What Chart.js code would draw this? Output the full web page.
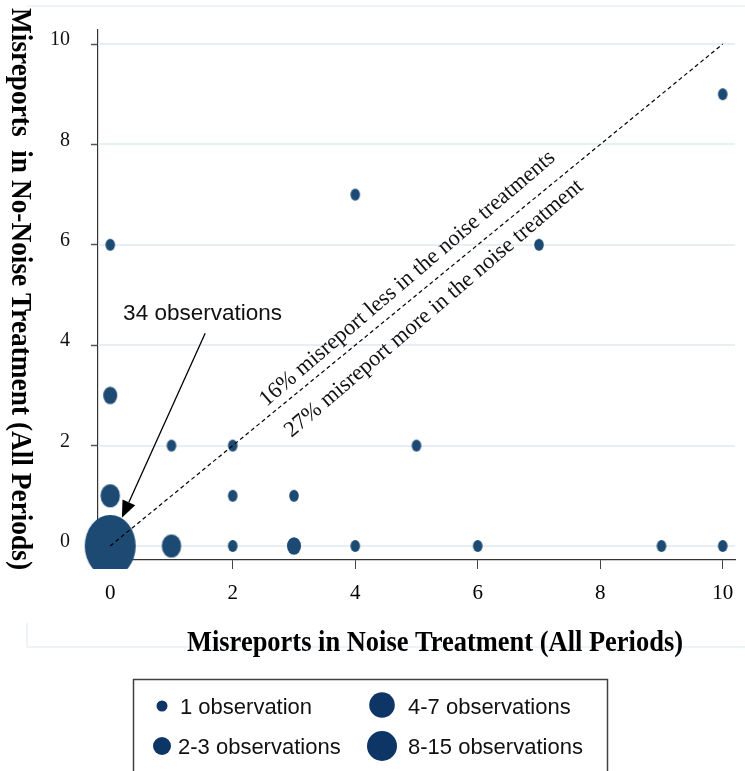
<!DOCTYPE html>
<html>
<head>
<meta charset="utf-8">
<script src="https://cdn.jsdelivr.net/npm/chart.js@4/dist/chart.umd.min.js"></script>
<style>
  html, body { margin: 0; padding: 0; background: #fff; }
  #wrap { width: 745px; height: 771px; position: relative; overflow: hidden; }
</style>
</head>
<body>
<div id="wrap"><canvas id="chart" width="745" height="771"></canvas></div>
<script>
// observations: x = misreports in noise treatment, y = misreports in no-noise treatment
const xValues = [0, 0, 0, 0, 1, 1, 2, 2, 2, 3, 3, 4, 4, 5, 6, 7, 9, 10, 10];
const yValues = [0, 1, 3, 6, 0, 2, 0, 1, 2, 0, 1, 0, 7, 2, 0, 6, 0, 0, 9];
const counts  = [34, 5, 2, 1, 5, 1, 1, 1, 1, 2, 1, 1, 1, 1, 1, 1, 1, 1, 1];

// 45 degree reference line
const diagonalX = [0, 10];
const diagonalY = [0, 10];

const xTicks = [0, 2, 4, 6, 8, 10];
const yTicks = [0, 2, 4, 6, 8, 10];

const xTitle = 'Misreports in Noise Treatment (All Periods)';
const yTitle = 'Misreports  in No-Noise Treatment (All Periods)';
const arrowLabel = '34 observations';
const lessLabel = '16% misreport less in the noise treatments';
const moreLabel = '27% misreport more in the noise treatment';

const legendLabels = ['1 observation', '2-3 observations', '4-7 observations', '8-15 observations'];

const DOT = '#1d4a73';
const LEGEND_DOT = '#0d3566';
const LIGHT = '#e8eff3';

// size class of a bubble (horizontal/vertical radius in px)
function dotSize(c) {
    if (c <= 1) return [4.8, 6];
    if (c <= 3) return [7, 8.8];
    if (c <= 7) return [9.7, 11.5];
    if (c <= 15) return [13, 15.5];
    return [25.5, 31];
}

const ellipseCache = {};
function ellipseStyle(c) {
    const [rx, ry] = dotSize(c);
    const key = rx + '_' + ry;
    if (ellipseCache[key]) return ellipseCache[key];
    const cv = document.createElement('canvas');
    cv.width = Math.ceil(rx * 2) + 2;
    cv.height = Math.ceil(ry * 2) + 2;
    const g = cv.getContext('2d');
    g.fillStyle = DOT;
    g.beginPath();
    g.ellipse(cv.width / 2, cv.height / 2, rx, ry, 0, 0, Math.PI * 2);
    g.fill();
    ellipseCache[key] = cv;
    return cv;
}

const points = xValues.map((x, i) => ({ x: x, y: yValues[i] }));
const diagonal = diagonalX.map((x, i) => ({ x: x, y: diagonalY[i] }));

// light horizontal grid lines and the faint outer frame, under the dots
const backgroundPlugin = {
    id: 'background',
    beforeDatasetsDraw(chart) {
        const ctx = chart.ctx;
        const area = chart.chartArea;
        const y = chart.scales.y;
        ctx.save();
        ctx.strokeStyle = LIGHT;
        ctx.lineWidth = 2;
        yTicks.forEach(v => {
            const py = Math.round(y.getPixelForValue(v));
            ctx.beginPath();
            ctx.moveTo(area.left, py);
            ctx.lineTo(area.right, py);
            ctx.stroke();
        });
        // outer frame
        ctx.lineWidth = 1.5;
        ctx.beginPath();
        ctx.moveTo(27, 6);
        ctx.lineTo(745, 6);
        ctx.moveTo(27, 623);
        ctx.lineTo(27, 647);
        ctx.lineTo(745, 647);
        ctx.stroke();
        ctx.restore();
    }
};

function drawLegend(ctx) {
    ctx.save();
    ctx.strokeStyle = '#404040';
    ctx.lineWidth = 1.5;
    ctx.strokeRect(133.5, 679.5, 474, 120);
    const cols = [162, 162, 382, 382];
    const rows = [706, 746, 705, 746];
    const radii = [5.5, 9, 12.8, 15];
    const textX = [180, 178, 408, 408];
    const base = [714, 754, 714, 754];
    ctx.font = '22px "Liberation Sans", Arial, sans-serif';
    ctx.textAlign = 'left';
    ctx.textBaseline = 'alphabetic';
    legendLabels.forEach((label, i) => {
        ctx.fillStyle = LEGEND_DOT;
        ctx.beginPath();
        ctx.arc(cols[i], rows[i], radii[i], 0, Math.PI * 2);
        ctx.fill();
        ctx.fillStyle = '#111';
        ctx.fillText(label, textX[i], base[i]);
    });
    ctx.restore();
}

// titles, arrow, rotated notes, legend
const annotationPlugin = {
    id: 'annotations',
    afterDraw(chart) {
        const ctx = chart.ctx;
        const xs = chart.scales.x;
        const ys = chart.scales.y;
        const px = v => xs.getPixelForValue(v);
        const py = v => ys.getPixelForValue(v);

        ctx.save();
        ctx.fillStyle = '#000';

        // x title (condensed bold serif)
        ctx.font = 'bold 29px "Liberation Serif", "Times New Roman", serif';
        let w = ctx.measureText(xTitle).width;
        ctx.save();
        ctx.translate(435, 651);
        ctx.scale(496 / w, 1);
        ctx.textAlign = 'center';
        ctx.fillText(xTitle, 0, 0);
        ctx.restore();

        // y title, reading top to bottom
        w = ctx.measureText(yTitle).width;
        ctx.save();
        ctx.translate(12, 8);
        ctx.rotate(Math.PI / 2);
        ctx.scale(562 / w, 1);
        ctx.textAlign = 'left';
        ctx.fillText(yTitle, 0, 0);
        ctx.restore();

        // arrow to the big bubble
        ctx.font = '22.5px "Liberation Sans", Arial, sans-serif';
        ctx.fillStyle = '#111';
        ctx.textAlign = 'left';
        ctx.fillText(arrowLabel, px(0.21), py(4.5));

        const ax0 = px(1.55), ay0 = py(4.24);
        const ax1 = px(0.19), ay1 = py(0.56);
        const ang = Math.atan2(ay1 - ay0, ax1 - ax0);
        const headLen = 17, headW = 7;
        const bx = ax1 - headLen * Math.cos(ang);
        const by = ay1 - headLen * Math.sin(ang);
        ctx.strokeStyle = '#000';
        ctx.lineWidth = 1.3;
        ctx.beginPath();
        ctx.moveTo(ax0, ay0);
        ctx.lineTo(bx, by);
        ctx.stroke();
        ctx.fillStyle = '#000';
        ctx.beginPath();
        ctx.moveTo(ax1, ay1);
        ctx.lineTo(bx + headW * Math.sin(ang), by - headW * Math.cos(ang));
        ctx.lineTo(bx - headW * Math.sin(ang), by + headW * Math.cos(ang));
        ctx.closePath();
        ctx.fill();

        // rotated notes along the diagonal
        const tilt = -40.5 * Math.PI / 180;
        ctx.font = '22.5px "Liberation Serif", "Times New Roman", serif';
        ctx.fillStyle = '#111';
        [[lessLabel, 2.55, 2.77], [moreLabel, 2.96, 2.15]].forEach(([txt, dx, dy]) => {
            ctx.save();
            ctx.translate(px(dx), py(dy));
            ctx.rotate(tilt);
            ctx.fillText(txt, 0, 0);
            ctx.restore();
        });
        ctx.restore();

        drawLegend(ctx);
    }
};

const ctx = document.getElementById('chart').getContext('2d');
new Chart(ctx, {
    type: 'scatter',
    data: {
        datasets: [
            {
                label: 'equal',
                data: diagonal,
                showLine: true,
                borderColor: '#000',
                borderWidth: 1.2,
                borderDash: [4, 3],
                pointRadius: 0,
                order: 0
            },
            {
                label: 'observations',
                data: points,
                pointStyle: c => ellipseStyle(counts[c.dataIndex]),
                pointRadius: c => dotSize(counts[c.dataIndex])[0],
                order: 1,
                clip: { left: 20, top: 5, right: 10, bottom: 9 }
            }
        ]
    },
    options: {
        responsive: false,
        animation: false,
        devicePixelRatio: 1,
        layout: { autoPadding: false, padding: { top: 30, right: 10, left: 0, bottom: 0 } },
        plugins: {
            legend: { display: false },
            tooltip: { enabled: false }
        },
        scales: {
            x: {
                type: 'linear',
                min: -0.2,
                max: 10.2,
                z: 1,
                afterBuildTicks: s => { s.ticks = xTicks.map(v => ({ value: v })); },
                afterFit: s => { s.height = 211; s.paddingLeft = 0; s.paddingRight = 0; },
                ticks: {
                    font: { family: '"Liberation Serif", "Times New Roman", serif', size: 21 },
                    color: '#000',
                    padding: 12,
                    maxRotation: 0
                },
                grid: { drawOnChartArea: false, tickLength: 9, tickColor: '#444', tickWidth: 1 },
                border: { color: '#333', width: 1.2 }
            },
            y: {
                type: 'linear',
                min: -0.28,
                max: 10.28,
                z: 1,
                afterBuildTicks: s => { s.ticks = yTicks.map(v => ({ value: v })); },
                afterFit: s => { s.width = 98; s.paddingTop = 0; s.paddingBottom = 0; },
                ticks: {
                    font: { family: '"Liberation Serif", "Times New Roman", serif', size: 20 },
                    color: '#111',
                    padding: 21,
                    labelOffset: -4
                },
                grid: { drawOnChartArea: false, tickLength: 7, tickColor: '#555', tickWidth: 1.5 },
                border: { color: '#333', width: 1.2 }
            }
        }
    },
    plugins: [backgroundPlugin, annotationPlugin]
});
</script>
</body>
</html>
